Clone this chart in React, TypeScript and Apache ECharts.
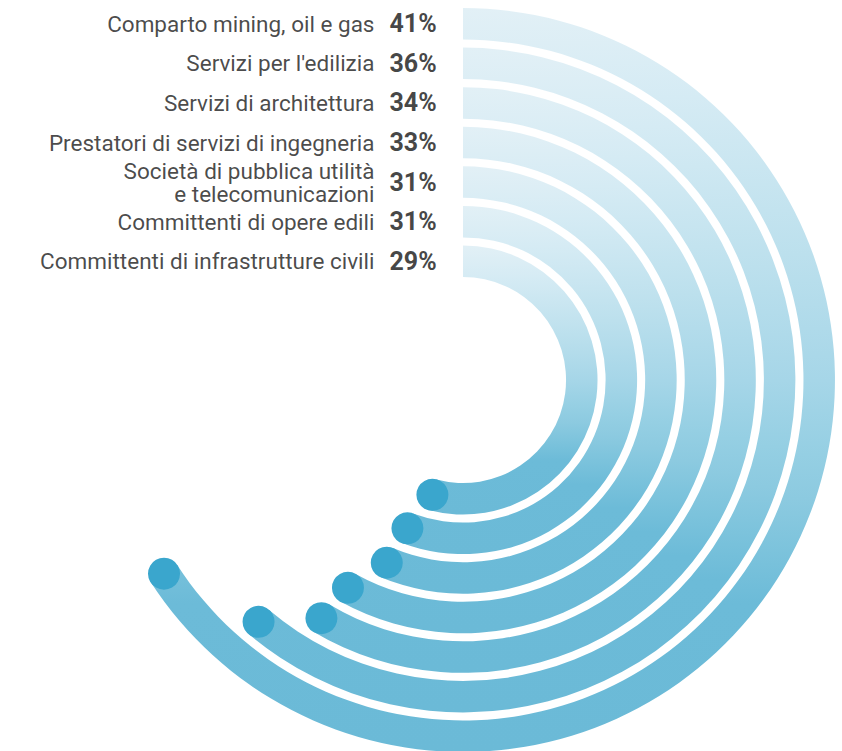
import React, { useEffect, useRef } from 'react';
import * as echarts from 'echarts';

// Categories listed from the outermost ring (top label) to the innermost ring
const categories = [
  'Comparto mining, oil e gas',
  "Servizi per l'edilizia",
  'Servizi di architettura',
  'Prestatori di servizi di ingegneria',
  'Società di pubblica utilità\ne telecomunicazioni',
  'Committenti di opere edili',
  'Committenti di infrastrutture civili',
];
// Arc lengths read from the rings (percent)
const values = [41, 36.2, 33.5, 33, 31.2, 30.6, 29];
// Printed percentages
const percentLabels = ['41%', '36%', '34%', '33%', '31%', '31%', '29%'];

// Angular scale: the arcs begin at 12 o'clock; value 0 sits ARC_START units further on
const ARC_START = 26.5;
const ARC_MAX = 102.5;

// axis order: innermost first
const axisCats = [...categories].reverse();
const axisVals = [...values].reverse();
const axisPct = [...percentLabels].reverse();

const ringGradient = {
  type: 'linear',
  x: 0,
  y: 0,
  x2: 0,
  y2: 1,
  colorStops: [
    { offset: 0, color: '#e2f0f6' },
    { offset: 0.12, color: '#d5ebf4' },
    { offset: 0.33, color: '#bce0ed' },
    { offset: 0.5, color: '#a6d6e8' },
    { offset: 0.6, color: '#95cfe3' },
    { offset: 0.66, color: '#8ccae0' },
    { offset: 0.73, color: '#7cc3dc' },
    { offset: 0.8, color: '#6cbbd8' },
    { offset: 1, color: '#6bbad7' },
  ],
};

const FONT = 'Roboto, "Noto Sans", sans-serif';

export default function App() {
  const ref = useRef<HTMLDivElement>(null);
  useEffect(() => {
    if (!ref.current) return;
    const chart = echarts.init(ref.current, undefined, { renderer: 'svg' });
    chart.setOption({
      animation: false,
      backgroundColor: '#ffffff',
      polar: { center: [463, 380], radius: [99, 376] },
      angleAxis: {
        type: 'value',
        min: 0,
        max: ARC_MAX,
        startAngle: 90,
        clockwise: true,
        show: false,
      },
      radiusAxis: { type: 'category', data: axisCats, show: false },
      series: [
        {
          type: 'bar',
          coordinateSystem: 'polar',
          data: axisVals.map((v) => v + ARC_START),
          barWidth: 31.5,
          itemStyle: { color: ringGradient },
          silent: true,
        },
        {
          type: 'scatter',
          coordinateSystem: 'polar',
          data: axisVals.map((v, i) => [i, v + ARC_START]),
          symbolSize: 32,
          itemStyle: { color: '#3aa6cd', opacity: 1 },
          silent: true,
          z: 3,
        },
        {
          type: 'scatter',
          coordinateSystem: 'polar',
          data: axisVals.map((_, i) => [i, 0]),
          symbolSize: 1,
          itemStyle: { color: 'rgba(0,0,0,0)' },
          silent: true,
          label: {
            show: true,
            position: 'left',
            distance: 88,
            align: 'right',
            verticalAlign: 'middle',
            fontFamily: FONT,
            fontSize: 22.5,
            lineHeight: 23,
            color: '#1a1a1a',
            formatter: (p: any) => axisCats[p.dataIndex],
          },
        },
        {
          type: 'scatter',
          coordinateSystem: 'polar',
          data: axisVals.map((_, i) => [i, 0]),
          symbolSize: 1,
          itemStyle: { color: 'rgba(0,0,0,0)' },
          silent: true,
          label: {
            show: true,
            position: 'left',
            distance: 73,
            align: 'left',
            verticalAlign: 'middle',
            fontFamily: FONT,
            fontSize: 25,
            fontWeight: 'bold',
            color: '#141414',
            formatter: (p: any) => axisPct[p.dataIndex],
          },
        },
      ],
    });
    return () => chart.dispose();
  }, []);
  return (
    <div
      ref={ref}
      style={{ position: 'absolute', left: 0, top: 0, width: 842, height: 751 }}
    />
  );
}
